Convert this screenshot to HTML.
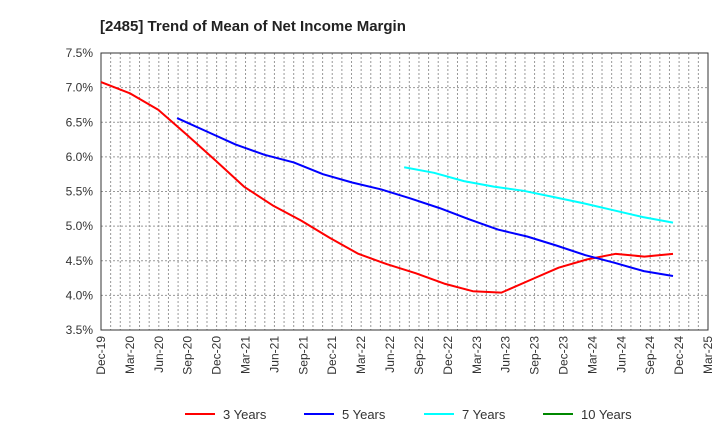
<!DOCTYPE html>
<html><head><meta charset="utf-8"><style>body{margin:0;background:#fff}svg{display:block;font-family:"Liberation Sans",sans-serif}</style></head>
<body>
<svg id="c" width="720" height="440"></svg>
<script>
const xLabels=["Dec-19","Mar-20","Jun-20","Sep-20","Dec-20","Mar-21","Jun-21","Sep-21","Dec-21","Mar-22","Jun-22","Sep-22","Dec-22","Mar-23","Jun-23","Sep-23","Dec-23","Mar-24","Jun-24","Sep-24","Dec-24","Mar-25"];
const yTicks=[3.5,4.0,4.5,5.0,5.5,6.0,6.5,7.0,7.5];
const s3=[7.08,6.92,6.68,6.32,5.95,5.57,5.30,5.08,4.83,4.60,4.45,4.32,4.17,4.06,4.04,4.22,4.40,4.52,4.60,4.56,4.60];
const s5=[6.56,6.37,6.18,6.03,5.92,5.75,5.63,5.53,5.40,5.26,5.10,4.95,4.85,4.72,4.58,4.47,4.35,4.28];
const s7=[5.85,5.77,5.65,5.57,5.51,5.42,5.33,5.23,5.13,5.05];
const s10=[];
const series=[{n:"3 Years",c:"#f00",d:s3,o:0},{n:"5 Years",c:"#00f",d:s5,o:2.66},{n:"7 Years",c:"#0ff",d:s7,o:10.6},{n:"10 Years",c:"#080",d:s10,o:0}];
const L=101,R=708,T=53,B=330,ns="http://www.w3.org/2000/svg",svg=document.getElementById('c');
const x=q=>L+(R-L)*q/21, y=v=>B-(B-T)*(v-3.5)/4;
const xd=q=>L+q*(673-L)/20;
function mk(t,a,p){const e=document.createElementNS(ns,t);for(const k in a)e.setAttribute(k,a[k]);(p||svg).appendChild(e);return e;}
const t=mk('text',{x:100,y:31,'font-size':15,'font-weight':'bold',fill:'#222'});t.textContent="[2485]  Trend of Mean of Net Income Margin";


for(let m=1;m<63;m++){const gx=L+(R-L)*m/63;const g=mk('line',{x1:gx,x2:gx,y1:T,y2:B,stroke:'#999','stroke-dasharray':'2,2'});

}
yTicks.forEach(v=>{const g=mk('line',{x1:L,x2:R,y1:y(v),y2:y(v),stroke:'#999','stroke-dasharray':'2,2'});


const l=mk('text',{x:L-8,y:y(v)+4,'text-anchor':'end','font-size':12,fill:'#333'});l.textContent=v.toFixed(1)+"%";

});
const fr=mk('rect',{x:L,y:T,width:R-L,height:B-T,fill:'none',stroke:'#333'});


xLabels.forEach((s,i)=>{const l=mk('text',{transform:`translate(${x(i)+4},${B+6}) rotate(-90)`,'text-anchor':'end','font-size':12,fill:'#333'});l.textContent=s;

});
series.forEach(s=>{if(!s.d.length)return;const n=s.d.length,st=n>1?(20-s.o)/(n-1):0;
const p=mk('polyline',{points:s.d.map((v,i)=>xd(s.o+i*st)+","+y(v)).join(" "),fill:'none',stroke:s.c,'stroke-width':2,'stroke-linejoin':'round'});

});
const lx=[185,304,424,543];
series.forEach((s,i)=>{const g=mk('g',{});


mk('line',{x1:lx[i],x2:lx[i]+30,y1:414,y2:414,stroke:s.c,'stroke-width':2},g);
const l=mk('text',{x:lx[i]+38,y:419,'font-size':13,fill:'#333'},g);l.textContent=s.n;});
</script>
</body></html>
